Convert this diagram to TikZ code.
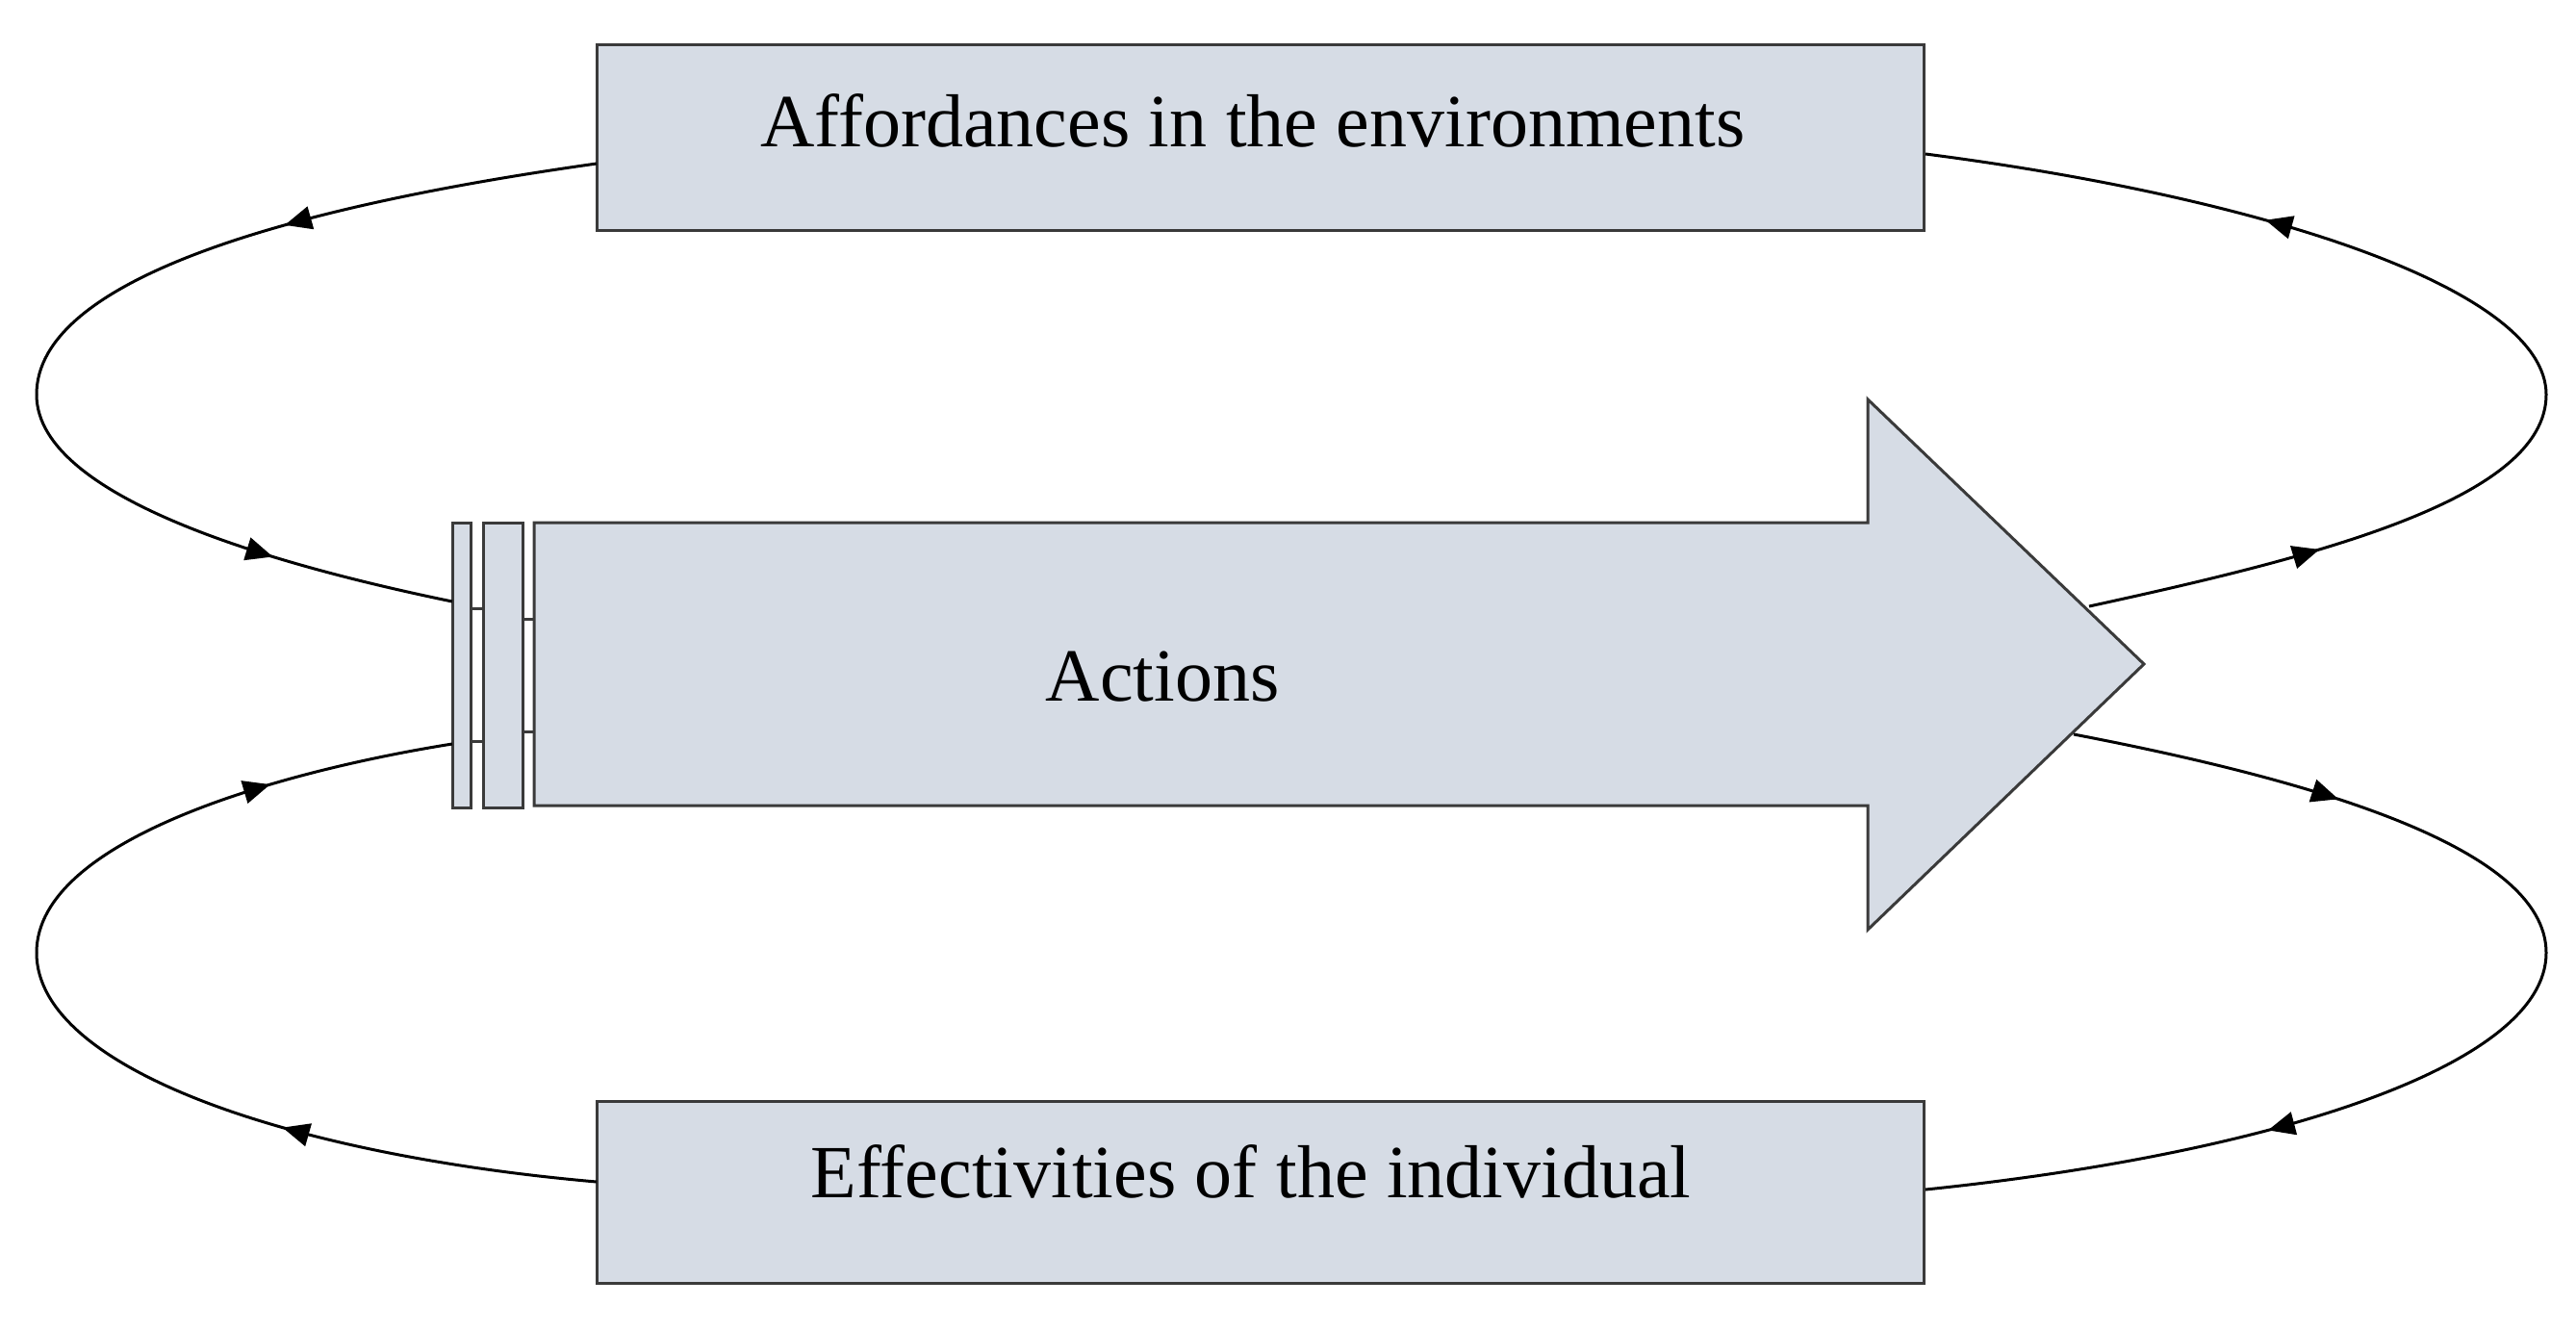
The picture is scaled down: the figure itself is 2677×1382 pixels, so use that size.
\documentclass[tikz,border=0pt]{standalone}
\usepackage{fontspec}
\setmainfont{Liberation Serif}
\usetikzlibrary{decorations.markings,arrows.meta}
\definecolor{boxfill}{HTML}{D6DCE5}
\definecolor{boxline}{HTML}{3A3A3A}
\begin{document}
\begin{tikzpicture}[x=1pt,y=-1pt,
  box/.style={draw=boxline,fill=boxfill,line width=3pt},
  loop/.style={line width=3pt,postaction={decorate},decoration={markings,mark=at position #1 with {\arrow{Triangle[length=28pt,width=24pt]}}}},
  loop/.default=0.5,
  lbl/.style={font=\fontsize{78}{90}\selectfont}]
\useasboundingbox (0,0) rectangle (2677,1382);
% boxes
\node[box,minimum width=1379pt,minimum height=193pt,inner sep=0pt] (top) at (1309.5,142.5) {};
\node[lbl] (toptext) at (1302,125) {Affordances in the environments};
\node[box,minimum width=1379pt,minimum height=189pt,inner sep=0pt] (bot) at (1309.5,1238.5) {};
\node[lbl] (bottext) at (1300,1217) {Effectivities of the individual};
% big arrow
\draw[box] (555,543) -- (1941,543) -- (1941,415) -- (2228,690) -- (1941,966) -- (1941,837) -- (555,837) -- cycle;
\draw[box] (502,543) rectangle (543,839);
\draw[box] (470,543) rectangle (489,839);
\draw[line width=3pt,boxline] (489,632) -- (502,632) (489,770) -- (502,770) (543,643) -- (555,643) (543,760) -- (555,760);
\node[lbl] (act) at (1208,703) {Actions};
% coordinates
\coordinate (tl0) at (620,170); \coordinate (tl1) at (38,410); \coordinate (tl2) at (470,625);
\coordinate (tr0) at (2001,160); \coordinate (tr1) at (2646,410); \coordinate (tr2) at (2171,630);
\coordinate (br0) at (2155,763); \coordinate (br1) at (2646,990); \coordinate (br2) at (2001,1236);
\coordinate (bl0) at (470,773); \coordinate (bl1) at (38,990); \coordinate (bl2) at (620,1228);
% loops
\draw[loop=0.5] (tl0) .. controls (300,215) and (38,290) .. (tl1);
\draw[loop=0.62] (tl1) .. controls (38,520) and (300,590) .. (tl2);
\draw[loop=0.45] (tr2) .. controls (2400,580) and (2646,520) .. (tr1);
\draw[loop=0.5] (tr1) .. controls (2646,300) and (2350,205) .. (tr0);
\draw[loop=0.5] (br0) .. controls (2400,810) and (2646,880) .. (br1);
\draw[loop=0.5] (br1) .. controls (2646,1110) and (2350,1200) .. (br2);
\draw[loop=0.5] (bl2) .. controls (300,1200) and (38,1110) .. (bl1);
\draw[loop=0.62] (bl1) .. controls (38,870) and (300,800) .. (bl0);
\end{tikzpicture}
\end{document}
